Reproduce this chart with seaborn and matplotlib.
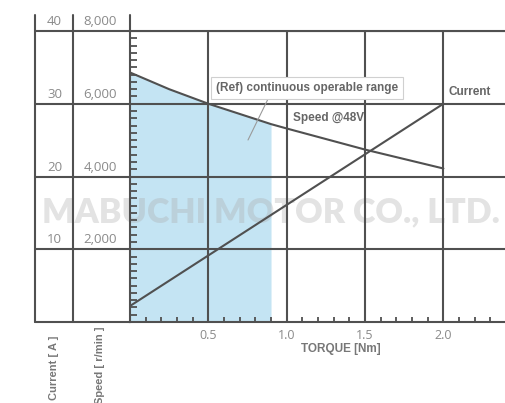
import matplotlib
matplotlib.use("Agg")
import matplotlib.pyplot as plt
import seaborn as sns
import pandas as pd
from matplotlib.lines import Line2D

# ---- data ----
speed_torque = [0.0, 0.25, 0.5, 0.9, 1.0, 1.5, 2.0]
speed_rpm = [6860, 6400, 6000, 5440, 5320, 4740, 4220]
current_torque = [0.0, 2.0]
current_amp = [2.2, 30.0]
range_end = 0.9  # continuous operable range limit (Nm)
x_ticks = [0.5, 1.0, 1.5, 2.0]
x_ticklabels = ["0.5", "1.0", "1.5", "2.0"]
current_labels = [10, 20, 30, 40]
speed_labels = ["2,000", "4,000", "6,000", "8,000"]

sns.set_style("white")
plt.rcParams['font.family'] = ['Open Sans', 'DejaVu Sans']

W, H = 506, 403
fig = plt.figure(figsize=(W / 100, H / 100), dpi=100)

def fx(x):
    return x / W

def fy(y):
    return 1 - y / H

LC = "#505050"
LW = 1.5
GRAY = "#8a8a8a"
NARROW = ['Liberation Sans Narrow', 'Liberation Sans', 'DejaVu Sans']

ax = fig.add_axes([fx(130), fy(322), (505 - 130) / W, (322 - 31) / H])
axl = fig.add_axes([fx(35), fy(322), (130 - 35) / W, (322 - 31) / H])

# --- main axes (speed scale) ---
ax.set_xlim(0, 375 / 156.7)
ax.set_ylim(0, 8000)

sp = pd.DataFrame({"torque": speed_torque, "speed": speed_rpm})
inrange = sp[sp["torque"] <= range_end]
ax.fill_between(inrange["torque"], inrange["speed"], 0, color="#c4e4f3", lw=0, zorder=1)
sns.lineplot(data=sp, x="torque", y="speed", ax=ax, color=LC, lw=LW, zorder=3)

ax.set_xticks(x_ticks)
ax.set_xticklabels(x_ticklabels)
ax.set_xticks([i / 10 for i in range(1, 24)], minor=True)
ax.set_yticks([2000, 4000, 6000, 8000])
ax.set_yticklabels([])
ax.set_yticks([i * 200 for i in range(1, 40)], minor=True)
ax.tick_params(axis="x", which="major", length=0, pad=5, labelsize=9, labelcolor=GRAY)
ax.tick_params(axis="x", which="minor", direction="in", length=3.5, width=1.3, color=LC, bottom=True)
ax.tick_params(axis="y", which="major", length=0)
ax.tick_params(axis="y", which="minor", direction="in", length=5, width=1.3, color=LC, left=True)
ax.grid(True, which="major", color=LC, lw=LW)
ax.set_axisbelow(False)
ax.set_xlabel("")
ax.set_ylabel("")
for s in ["left", "bottom", "top"]:
    ax.spines[s].set_color(LC)
    ax.spines[s].set_linewidth(LW)
ax.spines["right"].set_visible(False)
ax.add_line(Line2D([0, 0], [8000, 8000 + 16 * 8000 / 291], color=LC, lw=LW, clip_on=False))

# watermark (between fill and grid lines)
ax.text(fx(271), fy(212), "MABUCHI MOTOR CO., LTD.", transform=fig.transFigure,
        ha="center", va="center", fontsize=24.5, fontweight="heavy",
        family=['Lato', 'DejaVu Sans'], color="#a8a8a8", alpha=0.32,
        zorder=1.5, clip_on=False)

# current axis
ax2 = ax.twinx()
ax2.set_ylim(0, 40)
cur = pd.DataFrame({"torque": current_torque, "current": current_amp})
sns.lineplot(data=cur, x="torque", y="current", ax=ax2, color=LC, lw=LW)
ax2.set_axis_off()

# annotations
fig.text(fx(307), fy(88), "(Ref) continuous operable range", ha="center", va="center",
         fontsize=8.5, fontweight="bold", family=NARROW, color="#666666",
         bbox=dict(boxstyle="square,pad=0.45", fc="white", ec="#d0d0d0", lw=0.8))
fig.add_artist(Line2D([fx(268), fx(248)], [fy(99), fy(140)], color="#9a9a9a", lw=0.8))
fig.text(fx(293), fy(118), "Speed @48V", ha="left", va="center", fontsize=8.5,
         fontweight="bold", family=NARROW, color="#666666")
fig.text(fx(449), fy(92), "Current", ha="left", va="center", fontsize=8.5,
         fontweight="bold", family=NARROW, color="#666666")
fig.text(fx(341), fy(349), "TORQUE [Nm]", ha="center", va="center", fontsize=8.5,
         fontweight="bold", family=NARROW, color="#777777")

# --- left label panel ---
axl.set_xlim(35, 130)
axl.set_ylim(0, 40)
axl.set_axis_off()
top = 40 + 16 * 40 / 291
for x in [35, 73]:
    axl.add_line(Line2D([x, x], [0, top], color=LC, lw=LW, clip_on=False))
for y in [0] + current_labels:
    axl.add_line(Line2D([35, 130], [y, y], color=LC, lw=LW, clip_on=False))
for c, s in zip(current_labels, speed_labels):
    axl.text(62, c + 0.4, str(c), ha="right", va="bottom", fontsize=9.5, color=GRAY)
    axl.text(117, c + 0.4, s, ha="right", va="bottom", fontsize=9.5, color=GRAY)

fig.text(fx(54), fy(336), "Current [ A ]", rotation=90, ha="center", va="top",
         fontsize=8, fontweight="bold", family=NARROW, color="#777777")
fig.text(fx(100), fy(327), "Speed [ r/min ]", rotation=90, ha="center", va="top",
         fontsize=8, fontweight="bold", family=NARROW, color="#777777")

fig.savefig("out.png", dpi=100)
